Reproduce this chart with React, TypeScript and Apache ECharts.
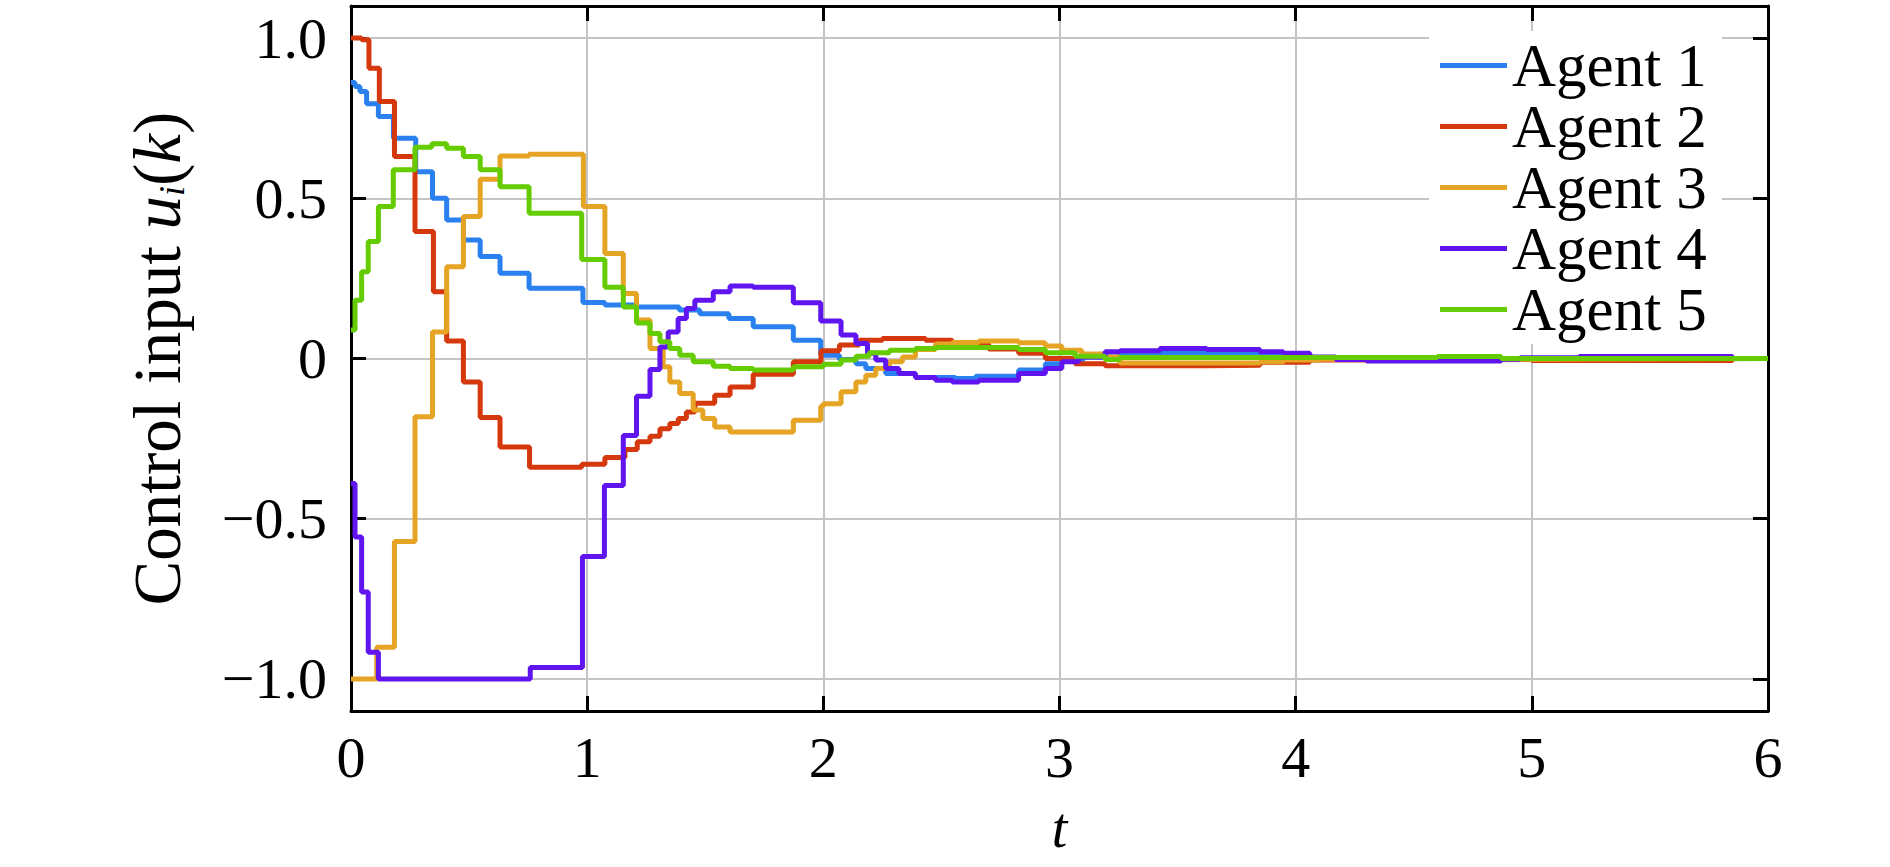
import React, { useEffect, useRef } from "react";
import * as echarts from "echarts";

const FONT = "'Liberation Serif', 'Times New Roman', serif";

const agentNames = ["Agent 1", "Agent 2", "Agent 3", "Agent 4", "Agent 5"];
const agentColors = ["#2b80f0", "#d4380c", "#e6a424", "#6014f0", "#64cc00"];

const xTicks = [0, 1, 2, 3, 4, 5, 6];
const yTickLabels: Record<string, string> = {
  "1": "1.0",
  "0.5": "0.5",
  "0": "0",
  "-0.5": "\u22120.5",
  "-1": "\u22121.0",
};

// Agent 1 (blue): step start times and held values
const agent1T = [0, 0.017, 0.038, 0.066, 0.116, 0.18, 0.274, 0.345, 0.405, 0.476, 0.547, 0.631, 0.754, 0.982, 1.075, 1.209, 1.39, 1.477, 1.6, 1.703, 1.873, 1.989, 2.068, 2.138, 2.18, 2.264, 2.39, 2.56, 2.645, 2.827, 2.94, 3.01, 3.1, 3.256, 3.849, 4.06, 4.6, 5.2];
const agent1U = [0.861, 0.849, 0.833, 0.795, 0.755, 0.6875, 0.583, 0.5, 0.432, 0.37, 0.318, 0.266, 0.219, 0.175, 0.167, 0.161, 0.151, 0.14, 0.125, 0.099, 0.057, 0.01, -0.003, -0.016, -0.031, -0.047, -0.059, -0.0625, -0.055, -0.036, -0.016, -0.005, 0.005, 0.016, 0.008, 0.003, -0.002, 0];

// Agent 2 (red)
const agent2T = [0, 0.045, 0.076, 0.12, 0.184, 0.271, 0.349, 0.405, 0.476, 0.547, 0.631, 0.756, 0.977, 1.075, 1.16, 1.212, 1.266, 1.308, 1.35, 1.386, 1.42, 1.456, 1.54, 1.605, 1.703, 1.873, 1.99, 2.068, 2.152, 2.25, 2.433, 2.546, 2.7, 2.827, 2.94, 3.066, 3.193, 3.623, 3.849, 4.06, 4.5, 5.0, 5.85];
const agent2U = [1.0, 0.995, 0.906, 0.802, 0.63, 0.396, 0.208, 0.055, -0.073, -0.184, -0.276, -0.339, -0.33, -0.309, -0.284, -0.26, -0.243, -0.219, -0.203, -0.1875, -0.167, -0.14, -0.115, -0.089, -0.049, -0.01, 0.024, 0.042, 0.057, 0.0625, 0.057, 0.045, 0.03, 0.016, 0.0, -0.016, -0.023, -0.021, -0.012, -0.005, -0.003, -0.006, 0];

// Agent 3 (orange)
const agent3T = [0, 0.109, 0.184, 0.271, 0.345, 0.405, 0.476, 0.547, 0.631, 0.754, 0.984, 1.075, 1.153, 1.209, 1.266, 1.322, 1.35, 1.392, 1.449, 1.49, 1.54, 1.605, 1.873, 1.989, 2.0, 2.075, 2.138, 2.18, 2.222, 2.28, 2.335, 2.39, 2.475, 2.546, 2.658, 2.827, 2.94, 3.01, 3.094, 3.193, 3.256, 3.849, 3.95, 4.1, 5.0];
const agent3U = [-1.0, -0.901, -0.571, -0.182, 0.083, 0.286, 0.443, 0.559, 0.632, 0.6375, 0.474, 0.328, 0.203, 0.12, 0.031, -0.026, -0.073, -0.109, -0.161, -0.1875, -0.214, -0.229, -0.193, -0.149, -0.141, -0.104, -0.073, -0.052, -0.031, -0.01, 0.005, 0.028, 0.045, 0.05, 0.055, 0.049, 0.039, 0.026, 0.014, 0.005, -0.014, -0.01, -0.005, -0.002, 0];

// Agent 4 (purple)
const agent4T = [0, 0.017, 0.045, 0.073, 0.116, 0.759, 0.98, 1.073, 1.153, 1.209, 1.266, 1.308, 1.343, 1.385, 1.42, 1.456, 1.534, 1.605, 1.703, 1.873, 1.989, 2.075, 2.138, 2.187, 2.222, 2.264, 2.32, 2.39, 2.475, 2.546, 2.658, 2.827, 2.94, 3.01, 3.08, 3.193, 3.256, 3.425, 3.623, 3.849, 3.948, 4.06, 4.17, 4.3, 4.87, 4.95, 5.2, 5.85];
const agent4U = [-0.39, -0.557, -0.729, -0.917, -1.0, -0.964, -0.618, -0.396, -0.24, -0.118, -0.034, 0.036, 0.083, 0.125, 0.156, 0.182, 0.208, 0.226, 0.222, 0.174, 0.117, 0.073, 0.047, 0.016, -0.005, -0.031, -0.047, -0.059, -0.068, -0.073, -0.068, -0.047, -0.031, -0.01, 0.005, 0.021, 0.024, 0.031, 0.028, 0.021, 0.016, 0.005, -0.003, -0.008, -0.002, 0.002, 0.006, 0];

// Agent 5 (green)
const agent5T = [0, 0.017, 0.045, 0.073, 0.116, 0.179, 0.271, 0.342, 0.405, 0.476, 0.547, 0.631, 0.754, 0.977, 1.075, 1.153, 1.209, 1.266, 1.308, 1.35, 1.392, 1.449, 1.534, 1.605, 1.703, 1.873, 2.0, 2.075, 2.138, 2.194, 2.28, 2.39, 2.475, 2.827, 2.94, 3.066, 3.193, 3.256, 4.6, 4.87];
const agent5U = [0.089, 0.182, 0.271, 0.365, 0.474, 0.589, 0.659, 0.67, 0.656, 0.63, 0.589, 0.536, 0.453, 0.309, 0.222, 0.161, 0.111, 0.078, 0.052, 0.031, 0.01, -0.01, -0.024, -0.031, -0.036, -0.026, -0.018, -0.005, 0.007, 0.018, 0.026, 0.031, 0.034, 0.028, 0.018, 0.007, -0.003, 0.003, 0.006, 0];

const agentTimes = [agent1T, agent2T, agent3T, agent4T, agent5T];
const agentValues = [agent1U, agent2U, agent3U, agent4U, agent5U];

const T_END = 6;

export default function App() {
  const ref = useRef<HTMLDivElement>(null);

  useEffect(() => {
    document.body.style.margin = "0";
    if (!ref.current) return;
    const chart = echarts.init(ref.current, undefined, { renderer: "svg" });

    const series = agentNames.map((name, k) => {
      const ts = agentTimes[k];
      const us = agentValues[k];
      const data: number[][] = ts.map((t, i) => [t, us[i]]);
      data.push([T_END, us[us.length - 1]]);
      return {
        name,
        type: "line",
        step: "end",
        showSymbol: false,
        symbol: "none",
        data,
        lineStyle: { width: 5, color: agentColors[k] },
        itemStyle: { color: agentColors[k] },
        z: 2 + k,
      };
    });

    const axisCommon = {
      axisLine: { show: true, onZero: false, lineStyle: { color: "#000", width: 3 } },
      axisTick: { show: true, inside: true, length: 15, lineStyle: { color: "#000", width: 3 } },
    };

    chart.setOption({
      animation: false,
      backgroundColor: "#fff",
      grid: { left: 351, right: 122, top: 6, bottom: 156, containLabel: false },
      legend: {
        data: agentNames.map((n) => ({ name: n, icon: "rect" })),
        orient: "vertical",
        left: 1429,
        top: 31,
        padding: [4, 15, 4, 11],
        itemGap: 0,
        itemWidth: 67,
        itemHeight: 5,
        backgroundColor: "#fff",
        textStyle: { fontFamily: FONT, fontSize: 61, color: "#000", lineHeight: 54 },
      },
      xAxis: [
        {
          type: "value",
          min: xTicks[0],
          max: xTicks[xTicks.length - 1],
          interval: 1,
          position: "bottom",
          ...axisCommon,
          axisLabel: { fontFamily: FONT, fontSize: 58, color: "#000", margin: 17 },
          splitLine: { show: true, lineStyle: { color: "#c4c4c4", width: 2 } },
          name: "t",
          nameLocation: "middle",
          nameGap: 89,
          nameTextStyle: { fontFamily: FONT, fontSize: 56, fontStyle: "italic", color: "#000" },
        },
        {
          type: "value",
          min: xTicks[0],
          max: xTicks[xTicks.length - 1],
          interval: 1,
          position: "top",
          ...axisCommon,
          axisLabel: { show: false },
          splitLine: { show: false },
        },
      ],
      yAxis: [
        {
          type: "value",
          min: -1.1,
          max: 1.1,
          splitNumber: 5,
          position: "left",
          ...axisCommon,
          axisLabel: {
            fontFamily: FONT,
            fontSize: 58,
            color: "#000",
            margin: 24,
            formatter: (v: number) => {
              const key = String(Math.round(v * 100) / 100);
              return yTickLabels[key] ?? "";
            },
          },
          splitLine: { show: true, lineStyle: { color: "#c4c4c4", width: 2 } },
          name: "{n|Control input }{i|u}{s|i}{n|(}{i|k}{n|)}",
          nameLocation: "middle",
          nameGap: 161,
          nameTextStyle: {
            fontFamily: FONT,
            fontSize: 67,
            color: "#000",
            rich: {
              n: { fontFamily: FONT, fontSize: 67, color: "#000" },
              i: { fontFamily: FONT, fontSize: 67, fontStyle: "italic", color: "#000" },
              s: { fontFamily: FONT, fontSize: 36, fontStyle: "italic", color: "#000", verticalAlign: "bottom", lineHeight: 26 },
            },
          },
        },
        {
          type: "value",
          min: -1.1,
          max: 1.1,
          splitNumber: 5,
          position: "right",
          ...axisCommon,
          axisLabel: { show: false },
          splitLine: { show: false },
        },
      ],
      series,
    });

    return () => chart.dispose();
  }, []);

  return <div ref={ref} style={{ width: 1890, height: 867 }} />;
}
